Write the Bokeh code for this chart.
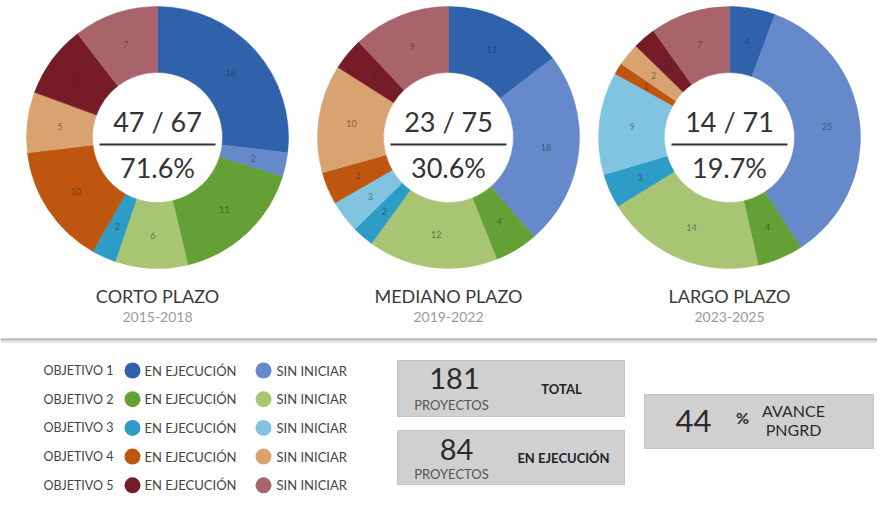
import numpy as np
from bokeh.plotting import figure
from bokeh.models import Range1d, ColumnDataSource
from bokeh.embed import file_html
from bokeh.resources import INLINE
from bokeh.core.properties import value

# ---------------- data ----------------
periods = ["CORTO PLAZO", "MEDIANO PLAZO", "LARGO PLAZO"]
years = ["2015-2018", "2019-2022", "2023-2025"]
# slice order: obj1 exec, obj1 sin, obj2 exec, obj2 sin, obj3 exec, obj3 sin,
#              obj4 exec, obj4 sin, obj5 exec, obj5 sin
corto = [18, 2, 11, 6, 2, 0, 10, 5, 6, 7]
mediano = [11, 18, 4, 12, 2, 3, 3, 10, 3, 9]
largo = [4, 25, 4, 14, 3, 9, 1, 2, 2, 7]
ejecutados = [47, 23, 14]
totales = [67, 75, 71]
porcentajes = [71.6, 30.6, 19.7]

objetivos = ["OBJETIVO 1", "OBJETIVO 2", "OBJETIVO 3", "OBJETIVO 4", "OBJETIVO 5"]
estados = ["EN EJECUCIÓN", "SIN INICIAR"]
colores_ejec = ["#2f62ab", "#64a035", "#2d9cc6", "#bf560f", "#761c29"]
colores_sin = ["#6589cb", "#a8c573", "#80c4e2", "#d8a271", "#a9636a"]

total_proyectos = 181
proyectos_ejecucion = 84
avance_pct = 44

# ---------------- layout helpers (reference pixel -> data) ----------------
W, H = 877, 512
def X(x):
    return x - 8
def Y(y):
    return 520 - y

FONT = value("Lato")

p = figure(width=W, height=H, output_backend="svg", toolbar_location=None,
           x_range=Range1d(0, W), y_range=Range1d(0, H), min_border=0)
p.axis.visible = False
p.grid.visible = False
p.outline_line_color = None
p.background_fill_color = "white"
p.border_fill_color = "white"

slice_colors = []
for ce, cs in zip(colores_ejec, colores_sin):
    slice_colors += [ce, cs]

centers = [(165, 145), (456, 145), (737, 145)]
R_OUT, R_IN = 131, 65

for k, vals in enumerate([corto, mediano, largo]):
    cx, cy = X(centers[k][0]), Y(centers[k][1])
    vals = np.array(vals, dtype=float)
    tot = vals.sum()
    cum = np.concatenate([[0], np.cumsum(vals)])
    keep = vals > 0
    starts = np.pi / 2 - 2 * np.pi * cum[:-1] / tot
    ends = np.pi / 2 - 2 * np.pi * cum[1:] / tot
    mids = (starts + ends) / 2
    rm = (R_OUT + R_IN) / 2
    src = ColumnDataSource(dict(
        x=[cx] * int(keep.sum()), y=[cy] * int(keep.sum()),
        start=list(starts[keep]), end=list(ends[keep]),
        color=[c for c, kk in zip(slice_colors, keep) if kk],
        lx=list(cx + rm * np.cos(mids[keep])), ly=list(cy + rm * np.sin(mids[keep])),
        lab=[str(int(v)) for v in vals[keep]],
    ))
    p.annular_wedge(x="x", y="y", inner_radius=R_IN, outer_radius=R_OUT,
                    start_angle="start", end_angle="end", direction="clock",
                    fill_color="color", line_color="color", line_width=0.5, source=src)
    p.text(x="lx", y="ly", text="lab", source=src, text_font=FONT, text_font_size="9px",
           text_color="#2a2a2a", text_alpha=0.55, text_align="center", text_baseline="middle")

    # center text
    p.text(x=[cx], y=[cy + 16], text=[f"{ejecutados[k]} / {totales[k]}"], text_font=FONT,
           text_font_size="27px", text_color="#333333", text_align="center",
           text_baseline="middle")
    p.segment(x0=[cx - 58], y0=[cy - 7], x1=[cx + 58], y1=[cy - 7],
              line_color="#333333", line_width=2)
    p.text(x=[cx], y=[cy - 30], text=[f"{porcentajes[k]}%"], text_font=FONT,
           text_font_size="27px", text_color="#333333", text_align="center",
           text_baseline="middle")
    # period labels
    p.text(x=[cx], y=[Y(303)], text=[periods[k]], text_font=FONT, text_font_size="18px",
           text_color="#3a3a3a", text_align="center", text_baseline="middle")
    p.text(x=[cx], y=[Y(324)], text=[years[k]], text_font=FONT, text_font_size="14px",
           text_color="#9a9a9a", text_align="center", text_baseline="middle")

# separator lines
p.segment(x0=[X(8)], y0=[Y(348)], x1=[X(893)], y1=[Y(348)], line_color="#e6e6e6", line_width=5)
p.segment(x0=[X(8)], y0=[Y(347)], x1=[X(893)], y1=[Y(347)], line_color="#b8b8b8", line_width=2)
p.segment(x0=[X(8)], y0=[Y(524)], x1=[X(893)], y1=[Y(524)], line_color="#ececec", line_width=2)

# legend
row_y = [Y(378 + 28.7 * i) for i in range(5)]
p.text(x=[X(121)] * 5, y=row_y, text=objetivos, text_font=FONT, text_font_size="12.5px",
       text_color="#444444", text_align="right", text_baseline="middle")
p.scatter(x=[X(140)] * 5, y=row_y, size=16, marker="circle", fill_color=colores_ejec,
          line_color=None)
p.text(x=[X(152)] * 5, y=row_y, text=[estados[0]] * 5, text_font=FONT, text_font_size="13px",
       text_color="#444444", text_align="left", text_baseline="middle")
p.scatter(x=[X(271)] * 5, y=row_y, size=16, marker="circle", fill_color=colores_sin,
          line_color=None)
p.text(x=[X(284)] * 5, y=row_y, text=[estados[1]] * 5, text_font=FONT, text_font_size="13px",
       text_color="#444444", text_align="left", text_baseline="middle")

# summary boxes
box_fill = "#d0d0d0"
p.quad(left=[X(405), X(405), X(652)], right=[X(632), X(632), X(881)],
       top=[Y(368), Y(438), Y(402)], bottom=[Y(424), Y(492), Y(456)],
       fill_color=box_fill, line_color="#c4c4c4", line_width=1)

p.text(x=[X(462)], y=[Y(386)], text=[str(total_proyectos)], text_font=FONT,
       text_font_size="29px", text_color="#2b2b2b", text_align="center", text_baseline="middle")
p.text(x=[X(459)], y=[Y(412)], text=["PROYECTOS"], text_font=FONT, text_font_size="13px",
       text_color="#555555", text_align="center", text_baseline="middle")
p.text(x=[X(569)], y=[Y(396)], text=["TOTAL"], text_font=FONT, text_font_size="13px",
       text_font_style="bold", text_color="#222222", text_align="center", text_baseline="middle")

p.text(x=[X(464)], y=[Y(457)], text=[str(proyectos_ejecucion)], text_font=FONT,
       text_font_size="29px", text_color="#2b2b2b", text_align="center", text_baseline="middle")
p.text(x=[X(459)], y=[Y(481)], text=["PROYECTOS"], text_font=FONT, text_font_size="13px",
       text_color="#555555", text_align="center", text_baseline="middle")
p.text(x=[X(571)], y=[Y(465)], text=["EN EJECUCIÓN"], text_font=FONT, text_font_size="13px",
       text_font_style="bold", text_color="#222222", text_align="center", text_baseline="middle")

p.text(x=[X(701)], y=[Y(428)], text=[str(avance_pct)], text_font=FONT,
       text_font_size="31px", text_color="#2b2b2b", text_align="center", text_baseline="middle")
p.text(x=[X(750)], y=[Y(425)], text=["%"], text_font=FONT, text_font_size="16px",
       text_font_style="bold", text_color="#2b2b2b", text_align="center", text_baseline="middle")
p.text(x=[X(801)], y=[Y(418)], text=["AVANCE"], text_font=FONT, text_font_size="16px",
       text_color="#2b2b2b", text_align="center", text_baseline="middle")
p.text(x=[X(801)], y=[Y(437)], text=["PNGRD"], text_font=FONT, text_font_size="16px",
       text_color="#2b2b2b", text_align="center", text_baseline="middle")

open("out.html", "w").write(file_html(p, INLINE))
